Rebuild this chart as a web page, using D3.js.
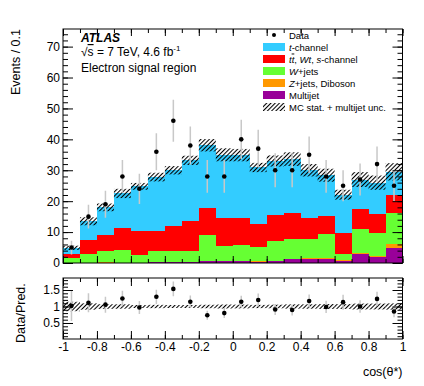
<!DOCTYPE html>
<html>
<head>
<meta charset="utf-8">
<script src="https://cdn.jsdelivr.net/npm/d3@7"></script>
<style>
  body { margin: 0; background: #fff; }
  text { font-family: "Liberation Sans", Arial, sans-serif; fill: #000; }
</style>
</head>
<body>
<svg width="424" height="386"></svg>
<script>
// cos(theta*) bins, width 0.1
const binEdges = [-1, -0.9, -0.8, -0.7, -0.6, -0.5, -0.4, -0.3, -0.2, -0.1, 0,
                  0.1, 0.2, 0.3, 0.4, 0.5, 0.6, 0.7, 0.8, 0.9, 1];
const dataCounts = [5, 15, 19, 28, 24, 36, 46, 38, 28, 28, 40, 37, 30, 30, 35, 28, 25, 27, 32, 25];
const multijet = [0, 0, 0, 0, 0, 0.3, 0.3, 0.3, 0.6, 0.5, 0.5, 0.4, 0.6, 1.2, 1.2, 1.2, 0.8, 3.0, 1.9, 4.7];
const zjets = [0.1, 0.1, 0.2, 0.1, 0.1, 0.1, 0.1, 0.1, 0.2, 0.2, 0.2, 0.2, 0.2, 0.2, 0.5, 0.3, 0.2, 0.1, 0.4, 1.6];
const wjets = [1.5, 2.7, 3.6, 4.1, 2.4, 3.5, 3.4, 3.6, 8.1, 4.9, 5.0, 4.6, 6.3, 6.5, 6.0, 8.0, 2.0, 8.0, 7.5, 9.9];
const ttbar = [1.4, 4.8, 5.2, 7.1, 7.8, 6.6, 8.1, 9.7, 9.0, 9.0, 8.7, 7.5, 8.3, 8.3, 6.7, 5.6, 6.7, 6.3, 6.0, 5.9];
const tchan = [1.9, 5.9, 9.0, 11.2, 14.5, 17.3, 18.1, 19.5, 20.2, 20.4, 20.5, 18.2, 17.6, 17.4, 15.6, 13.3, 12.4, 9.6, 10.2, 7.4];
const mcUnc = [0.7, 1.3, 1.25, 1.5, 1.1, 1.4, 1.35, 1.5, 2.0, 2.1, 2.0, 1.5, 1.8, 2.2, 2.0, 2.1, 1.6, 2.4, 2.3, 2.8];

const xTickLabels = [-1, -0.8, -0.6, -0.4, -0.2, 0, 0.2, 0.4, 0.6, 0.8, 1];
const yTickLabels = [0, 10, 20, 30, 40, 50, 60, 70];
const ratioTickLabels = [0.5, 1, 1.5];

const svg = d3.select('svg');
const xLeft = 63, xRight = 402.5;
const mainTop = 29, mainBottom = 263;
const ratioTop = 278, ratioBottom = 339;

const x = d3.scaleLinear().domain([-1, 1]).range([xLeft, xRight]);
const y = d3.scaleLinear().domain([0, 75.7]).range([mainBottom, mainTop]);
const yr = d3.scaleLinear().domain([0.015, 1.864]).range([ratioBottom, ratioTop]);

const keys = ['multijet', 'zjets', 'wjets', 'ttbar', 'tchan'];
const colors = {
  multijet: '#990099', zjets: '#ff9900', wjets: '#66ff33', ttbar: '#ff0000', tchan: '#33ccff'
};

const table = dataCounts.map((n, i) => ({
  lo: binEdges[i], hi: binEdges[i + 1], n,
  multijet: multijet[i], zjets: zjets[i], wjets: wjets[i], ttbar: ttbar[i], tchan: tchan[i],
  unc: mcUnc[i]
}));
table.forEach(d => { d.total = d3.sum(keys, k => d[k]); });

const defs = svg.append('defs');
defs.append('pattern')
    .attr('id', 'hatch')
    .attr('patternUnits', 'userSpaceOnUse')
    .attr('width', 3).attr('height', 3)
    .attr('patternTransform', 'rotate(45)')
  .append('line')
    .attr('x1', 0.5).attr('y1', 0).attr('x2', 0.5).attr('y2', 3)
    .attr('stroke', '#000').attr('stroke-width', 1.1);
defs.append('clipPath').attr('id', 'clipMain')
  .append('rect').attr('x', xLeft).attr('y', mainTop)
    .attr('width', xRight - xLeft).attr('height', mainBottom - mainTop);
defs.append('clipPath').attr('id', 'clipRatio')
  .append('rect').attr('x', xLeft).attr('y', ratioTop)
    .attr('width', xRight - xLeft).attr('height', ratioBottom - ratioTop);

// ---- main panel: stacked histogram
const mainG = svg.append('g').attr('clip-path', 'url(#clipMain)');
const series = d3.stack().keys(keys)(table);

mainG.append('g').selectAll('g')
  .data(series)
  .join('g')
    .attr('fill', d => colors[d.key])
  .selectAll('rect')
  .data(d => d)
  .join('rect')
    .attr('shape-rendering', 'crispEdges')
    .attr('x', d => x(d.data.lo))
    .attr('width', d => x(d.data.hi) - x(d.data.lo))
    .attr('y', d => y(d[1]))
    .attr('height', d => y(d[0]) - y(d[1]));

// MC stat + multijet uncertainty band
mainG.append('g').selectAll('rect')
  .data(table)
  .join('rect')
    .attr('x', d => x(d.lo))
    .attr('width', d => x(d.hi) - x(d.lo))
    .attr('y', d => y(d.total + d.unc))
    .attr('height', d => y(d.total - d.unc) - y(d.total + d.unc))
    .attr('fill', 'url(#hatch)');

// data with Poisson errors
const mid = d => x((d.lo + d.hi) / 2);
mainG.append('g').selectAll('line')
  .data(table)
  .join('line')
    .attr('x1', mid).attr('x2', mid)
    .attr('y1', d => y(d.n + Math.sqrt(d.n)))
    .attr('y2', d => y(d.n - Math.sqrt(d.n)))
    .attr('stroke', '#c8c8c8').attr('stroke-width', 1.5);
mainG.append('g').selectAll('circle')
  .data(table)
  .join('circle')
    .attr('cx', mid).attr('cy', d => y(d.n))
    .attr('r', 2.3).attr('fill', '#000');

// ---- ratio panel
const ratioG = svg.append('g').attr('clip-path', 'url(#clipRatio)');
ratioG.append('g').selectAll('rect')
  .data(table)
  .join('rect')
    .attr('x', d => x(d.lo))
    .attr('width', d => x(d.hi) - x(d.lo))
    .attr('y', d => yr(1 + d.unc / d.total))
    .attr('height', d => yr(1 - d.unc / d.total) - yr(1 + d.unc / d.total))
    .attr('fill', 'url(#hatch)');
ratioG.append('g').selectAll('line')
  .data(table)
  .join('line')
    .attr('x1', mid).attr('x2', mid)
    .attr('y1', d => yr((d.n + Math.sqrt(d.n)) / d.total))
    .attr('y2', d => yr((d.n - Math.sqrt(d.n)) / d.total))
    .attr('stroke', '#c8c8c8').attr('stroke-width', 1.5);
ratioG.append('g').selectAll('circle')
  .data(table)
  .join('circle')
    .attr('cx', mid).attr('cy', d => yr(d.n / d.total))
    .attr('r', 2.3).attr('fill', '#000');

// ---- axes (ROOT style ticks pointing inwards on all four sides)
const xMinor = d3.range(-1, 1.0001, 0.1);
const yMinor = d3.range(0, 75, 2);
const rMinor = d3.range(0.1, 1.86, 0.1);

function ticks(axis, values, size, at, fmt) {
  const g = svg.append('g')
    .attr('transform', at)
    .call(axis.tickValues(values).tickSize(-size).tickPadding(3)
      .tickFormat(fmt || ''));
  g.select('.domain').remove();
  g.selectAll('line').attr('stroke', '#000');
  g.selectAll('text').style('font-size', '12px').attr('font-family', null);
  return g;
}
const fmt = d => String(+d.toFixed(1));

// main
ticks(d3.axisLeft(y), yMinor, 5, `translate(${xLeft},0)`);
ticks(d3.axisLeft(y), yTickLabels, 10, `translate(${xLeft},0)`, fmt);
ticks(d3.axisRight(y), yMinor, 5, `translate(${xRight},0)`);
ticks(d3.axisRight(y), yTickLabels, 10, `translate(${xRight},0)`);
ticks(d3.axisBottom(x), xMinor, 4, `translate(0,${mainBottom})`);
ticks(d3.axisBottom(x), xTickLabels, 7, `translate(0,${mainBottom})`);
ticks(d3.axisTop(x), xMinor, 4, `translate(0,${mainTop})`);
ticks(d3.axisTop(x), xTickLabels, 7, `translate(0,${mainTop})`);

// ratio
ticks(d3.axisLeft(yr), rMinor, 5, `translate(${xLeft},0)`);
ticks(d3.axisLeft(yr), ratioTickLabels, 10, `translate(${xLeft},0)`, fmt);
ticks(d3.axisRight(yr), rMinor, 5, `translate(${xRight},0)`);
ticks(d3.axisRight(yr), ratioTickLabels, 10, `translate(${xRight},0)`);
ticks(d3.axisBottom(x), xMinor, 4, `translate(0,${ratioBottom})`);
ticks(d3.axisBottom(x), xTickLabels, 8, `translate(0,${ratioBottom})`, fmt);
ticks(d3.axisTop(x), xMinor, 4, `translate(0,${ratioTop})`);
ticks(d3.axisTop(x), xTickLabels, 8, `translate(0,${ratioTop})`);

svg.append('rect')
    .attr('x', xLeft).attr('y', mainTop)
    .attr('width', xRight - xLeft).attr('height', mainBottom - mainTop)
    .attr('fill', 'none').attr('stroke', '#000');
svg.append('rect')
    .attr('x', xLeft).attr('y', ratioTop)
    .attr('width', xRight - xLeft).attr('height', ratioBottom - ratioTop)
    .attr('fill', 'none').attr('stroke', '#000');

// axis titles
svg.append('text')
    .attr('transform', `translate(20,${mainTop}) rotate(-90)`)
    .attr('text-anchor', 'end')
    .style('font-size', '12.5px')
    .text('Events / 0.1');
svg.append('text')
    .attr('transform', `translate(25,${ratioBottom + 4}) rotate(-90)`)
    .attr('text-anchor', 'start')
    .style('font-size', '12.5px')
    .text('Data/Pred.');
svg.append('text')
    .attr('x', xRight).attr('y', 376)
    .attr('text-anchor', 'end')
    .style('font-size', '12.5px')
    .text('cos(θ*)');

// labels
svg.append('text')
    .attr('x', 81).attr('y', 42)
    .style('font-size', '12px').style('font-weight', 'bold').style('font-style', 'italic')
    .text('ATLAS');
const lumi = svg.append('text')
    .attr('x', 81).attr('y', 56)
    .style('font-size', '12px');
lumi.append('tspan').text('√');
lumi.append('tspan').style('text-decoration', 'overline').text('s');
lumi.append('tspan').text(' = 7 TeV, 4.6 fb');
lumi.append('tspan').attr('dy', -5).style('font-size', '8px').text('-1');
svg.append('text')
    .attr('x', 81).attr('y', 72)
    .style('font-size', '12px')
    .text('Electron signal region');

// ---- legend
const legendX = 263, legendY0 = 35, legendDy = 12;
const legendItems = [
  { type: 'data', parts: [['Data', false]] },
  { type: 'tchan', parts: [['t', true], ['-channel', false]] },
  { type: 'ttbar', parts: [['t', true], ['t', true, true], [', ', false], ['Wt', true], [', ', false], ['s', true], ['-channel', false]] },
  { type: 'wjets', parts: [['W', true], ['+jets', false]] },
  { type: 'zjets', parts: [['Z', true], ['+jets, Diboson', false]] },
  { type: 'multijet', parts: [['Multijet', false]] },
  { type: 'unc', parts: [['MC stat. + multijet unc.', false]] }
];
const legend = svg.append('g');
legendItems.forEach((item, i) => {
  const cy = legendY0 + i * legendDy;
  if (item.type === 'data') {
    legend.append('circle').attr('cx', legendX + 11).attr('cy', cy).attr('r', 2).attr('fill', '#000');
  } else {
    legend.append('rect')
      .attr('x', legendX).attr('y', cy - 4)
      .attr('width', 22).attr('height', 8)
      .attr('fill', item.type === 'unc' ? 'url(#hatch)' : colors[item.type]);
  }
  const t = legend.append('text')
    .attr('x', legendX + 26).attr('y', cy + 3.5)
    .style('font-size', '9.5px');
  item.parts.forEach(p => {
    const s = t.append('tspan').text(p[0]);
    if (p[1]) s.style('font-style', 'italic');
    if (p[2]) s.style('text-decoration', 'overline');
  });
});
</script>
</body>
</html>
